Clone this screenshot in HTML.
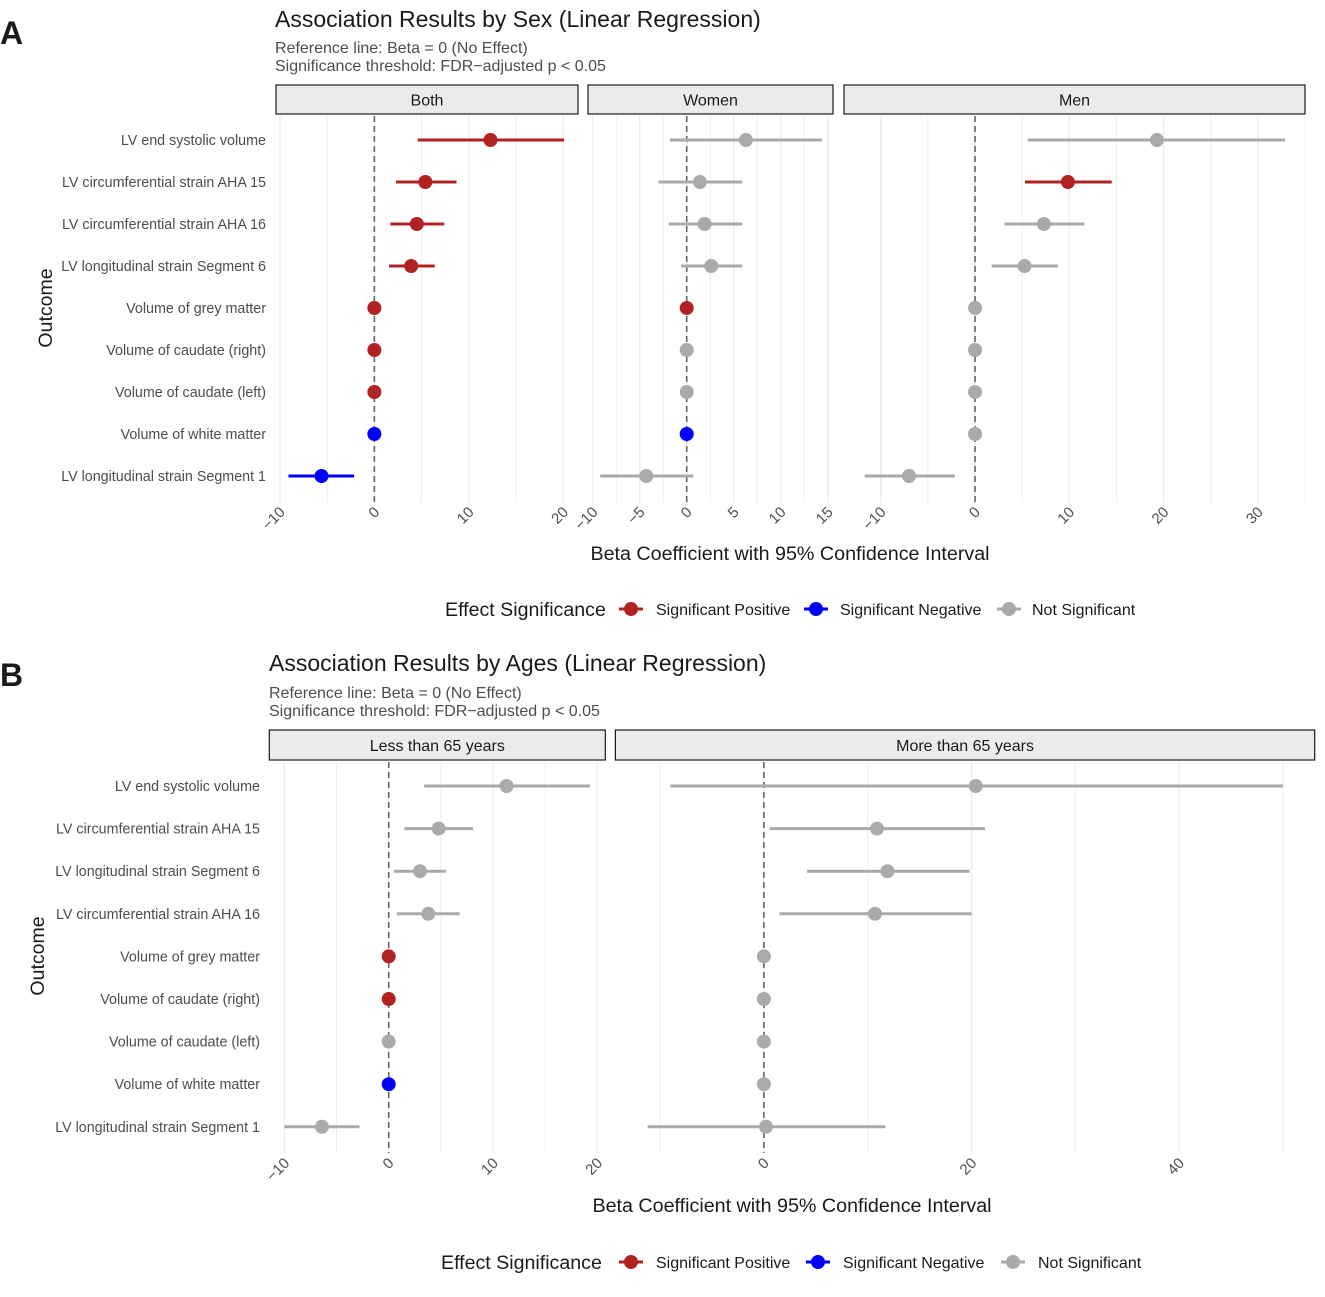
<!DOCTYPE html>
<html><head><meta charset="utf-8"><style>
html,body{margin:0;padding:0;background:#fff;}
svg{display:block;font-family:"Liberation Sans",Arial,sans-serif;}
</style></head><body>
<svg id="chart" width="1325" height="1297" viewBox="0 0 1325 1297">
<text x="0" y="44" font-size="32" font-weight="bold" fill="#1a1a1a">A</text>
<text x="275" y="27" font-size="23" fill="#1a1a1a">Association Results by Sex (Linear Regression)</text>
<text x="275" y="53" font-size="16" fill="#4d4d4d">Reference line: Beta = 0 (No Effect)</text>
<text x="275" y="71" font-size="16" fill="#4d4d4d">Significance threshold: FDR−adjusted p &lt; 0.05</text>
<text x="790" y="560" font-size="19.7" text-anchor="middle" fill="#1a1a1a">Beta Coefficient with 95% Confidence Interval</text>
<text transform="translate(52,308) rotate(-90)" font-size="19.5" text-anchor="middle" fill="#1a1a1a">Outcome</text>

<text x="0" y="686" font-size="32" font-weight="bold" fill="#1a1a1a">B</text>
<text x="269" y="671" font-size="23" fill="#1a1a1a">Association Results by Ages (Linear Regression)</text>
<text x="269" y="698" font-size="16" fill="#4d4d4d">Reference line: Beta = 0 (No Effect)</text>
<text x="269" y="716" font-size="16" fill="#4d4d4d">Significance threshold: FDR−adjusted p &lt; 0.05</text>
<text x="792" y="1212" font-size="19.7" text-anchor="middle" fill="#1a1a1a">Beta Coefficient with 95% Confidence Interval</text>
<text transform="translate(44,956) rotate(-90)" font-size="19.5" text-anchor="middle" fill="#1a1a1a">Outcome</text>
</svg>
<script>
// ---------- data ----------
const outcomesA = ["LV end systolic volume","LV circumferential strain AHA 15","LV circumferential strain AHA 16","LV longitudinal strain Segment 6","Volume of grey matter","Volume of caudate (right)","Volume of caudate (left)","Volume of white matter","LV longitudinal strain Segment 1"];
const outcomesB = ["LV end systolic volume","LV circumferential strain AHA 15","LV longitudinal strain Segment 6","LV circumferential strain AHA 16","Volume of grey matter","Volume of caudate (right)","Volume of caudate (left)","Volume of white matter","LV longitudinal strain Segment 1"];

const bothBeta  = [12.3, 5.4, 4.5, 3.9, 0, 0, 0, 0, -5.6];
const bothLow   = [4.6, 2.3, 1.7, 1.55, 0, 0, 0, 0, -9.1];
const bothHigh  = [20.1, 8.7, 7.4, 6.4, 0, 0, 0, 0, -2.15];
const bothSig   = ["pos","pos","pos","pos","pos","pos","pos","neg","neg"];

const womenBeta = [6.3, 1.4, 1.9, 2.6, 0, 0, 0, 0, -4.3];
const womenLow  = [-1.8, -3.0, -1.9, -0.6, 0, 0, 0, 0, -9.2];
const womenHigh = [14.4, 5.9, 5.9, 5.9, 0, 0, 0, 0, 0.7];
const womenSig  = ["ns","ns","ns","ns","pos","ns","ns","neg","ns"];

const menBeta   = [19.3, 9.85, 7.3, 5.25, 0, 0, 0, 0, -7.0];
const menLow    = [5.6, 5.3, 3.15, 1.75, 0, 0, 0, 0, -11.7];
const menHigh   = [32.9, 14.5, 11.6, 8.8, 0, 0, 0, 0, -2.15];
const menSig    = ["ns","pos","ns","ns","ns","ns","ns","ns","ns"];

const youngBeta = [11.3, 4.8, 3.0, 3.8, 0, 0, 0, 0, -6.4];
const youngLow  = [3.4, 1.5, 0.5, 0.8, 0, 0, 0, 0, -10.0];
const youngHigh = [19.3, 8.1, 5.5, 6.8, 0, 0, 0, 0, -2.8];
const youngSig  = ["ns","ns","ns","ns","pos","pos","ns","neg","ns"];

const oldBeta   = [20.4, 10.9, 11.9, 10.7, 0, 0, 0, 0, 0.2];
const oldLow    = [-9.0, 0.55, 4.15, 1.5, 0, 0, 0, 0, -11.2];
const oldHigh   = [50.0, 21.3, 19.8, 20.0, 0, 0, 0, 0, 11.7];
const oldSig    = ["ns","ns","ns","ns","ns","ns","ns","ns","ns"];

const ticksBoth  = [-10, 0, 10, 20];
const ticksWomen = [-10, -5, 0, 5, 10, 15];
const ticksMen   = [-10, 0, 10, 20, 30];
const ticksYoung = [-10, 0, 10, 20];
const ticksOld   = [0, 20, 40];
const legendLabels = ["Significant Positive","Significant Negative","Not Significant"];

// ---------- drawing ----------
const NS = "http://www.w3.org/2000/svg";
const svg = document.getElementById("chart");
const COLORS = {pos:"#B22222", neg:"#0000FF", ns:"#AAAAAA"};
function mk(tag, attrs, parent) {
  const e = document.createElementNS(NS, tag);
  for (const k in attrs) e.setAttribute(k, attrs[k]);
  (parent || svg).appendChild(e);
  return e;
}

function drawPanel(p) {
  const g = mk("g", {});
  
  
  const sx = v => p.x0 + (v - p.dmin) / (p.dmax - p.dmin) * (p.x1 - p.x0);
  const sy = i => p.rowY0 + i * p.rowStep;
  const strip = mk("rect", {x:p.x0, y:p.stripY, width:p.x1 - p.x0, height:p.stripH, fill:"#EBEBEB", stroke:"#1a1a1a", "stroke-width":1.2}, g);
  
  
  const st = mk("text", {x:(p.x0 + p.x1) / 2, y:p.stripY + p.stripH / 2 + 6, "font-size":16, "text-anchor":"middle", fill:"#1a1a1a"}, g);
  st.textContent = p.label;
  
  
  const step = p.ticks.length > 1 ? p.ticks[1] - p.ticks[0] : 10;
  const half = step / 2;
  const start = Math.ceil(p.dmin / half) * half;
  for (let v = start; v <= p.dmax + 1e-9; v += half) {
    const major = Math.abs((v / step) - Math.round(v / step)) < 1e-9;
    const gl = mk("line", {x1:sx(v), x2:sx(v), y1:p.plotY0, y2:p.plotY1, stroke:"#EBEBEB", "stroke-width": major ? 1.3 : 0.8}, g);
    
    
  }
  const zl = mk("line", {x1:sx(0), x2:sx(0), y1:p.plotY0, y2:p.plotY1, stroke:"#666", "stroke-width":1.6, "stroke-dasharray":"6,4"}, g);
  
  
  p.ticks.forEach(t => {
    const tx = mk("text", {transform:`translate(${sx(t) + 6},${p.tickY}) rotate(-45)`, "font-size":15, "text-anchor":"end", fill:"#4d4d4d"}, g);
    tx.textContent = t < 0 ? "−" + Math.abs(t) : String(t);
    
    
  });
  if (p.ylabels) {
    p.ylabels.forEach((lab, i) => {
      const yt = mk("text", {x:p.ylabX, y:sy(i) + 5, "font-size":14.3, "text-anchor":"end", fill:"#4d4d4d"}, g);
      yt.textContent = lab;
      
      
    });
  }
  p.beta.forEach((b, i) => {
    const c = COLORS[p.sig[i]];
    const ln = mk("line", {x1:sx(p.low[i]), x2:sx(p.high[i]), y1:sy(i), y2:sy(i), stroke:c, "stroke-width":3}, g);
    
    
    const pt = mk("circle", {cx:sx(b), cy:sy(i), r:7, fill:c}, g);
    
    
  });
}

const aCommon = {stripY:85, stripH:29, plotY0:116, plotY1:503, rowY0:140, rowStep:42, tickY:513};
drawPanel(Object.assign({name:"both", label:"Both", x0:276, x1:578, dmin:-10.42, dmax:21.57, ticks:ticksBoth, beta:bothBeta, low:bothLow, high:bothHigh, sig:bothSig, ylabels:outcomesA, ylabX:266}, aCommon));
drawPanel(Object.assign({name:"women", label:"Women", x0:588, x1:833, dmin:-10.5, dmax:15.56, ticks:ticksWomen, beta:womenBeta, low:womenLow, high:womenHigh, sig:womenSig}, aCommon));
drawPanel(Object.assign({name:"men", label:"Men", x0:844, x1:1305, dmin:-13.9, dmax:35.0, ticks:ticksMen, beta:menBeta, low:menLow, high:menHigh, sig:menSig}, aCommon));
const bCommon = {stripY:730, stripH:30, plotY0:762, plotY1:1153, rowY0:786, rowStep:42.6, tickY:1164};
drawPanel(Object.assign({name:"less-than-65", label:"Less than 65 years", x0:269.3, x1:605.3, dmin:-11.45, dmax:20.77, ticks:ticksYoung, beta:youngBeta, low:youngLow, high:youngHigh, sig:youngSig, ylabels:outcomesB, ylabX:260}, bCommon));
drawPanel(Object.assign({name:"more-than-65", label:"More than 65 years", x0:615.4, x1:1314.7, dmin:-14.3, dmax:53.05, ticks:ticksOld, beta:oldBeta, low:oldLow, high:oldHigh, sig:oldSig}, bCommon));

function drawLegend(name, y, titleX, keyXs, textXs) {
  const g = mk("g", {});
  
  
  const t = mk("text", {x:titleX, y:y + 7, "font-size":19.6, fill:"#1a1a1a"}, g);
  t.textContent = "Effect Significance";
  
  
  const keys = ["pos","neg","ns"];
  keys.forEach((k, i) => {
    const e = mk("g", {}, g);
    
    
    mk("line", {x1:keyXs[i] - 12, x2:keyXs[i] + 12, y1:y, y2:y, stroke:COLORS[k], "stroke-width":3}, e);
    mk("circle", {cx:keyXs[i], cy:y, r:7, fill:COLORS[k]}, e);
    const tx = mk("text", {x:textXs[i], y:y + 6, "font-size":16, fill:"#1a1a1a"}, e);
    tx.textContent = legendLabels[i];
  });
}
drawLegend("legend-a", 609, 445, [631, 816, 1009], [656, 840, 1032]);
drawLegend("legend-b", 1262, 441, [631, 818, 1013], [656, 843, 1038]);
</script>
</body></html>
